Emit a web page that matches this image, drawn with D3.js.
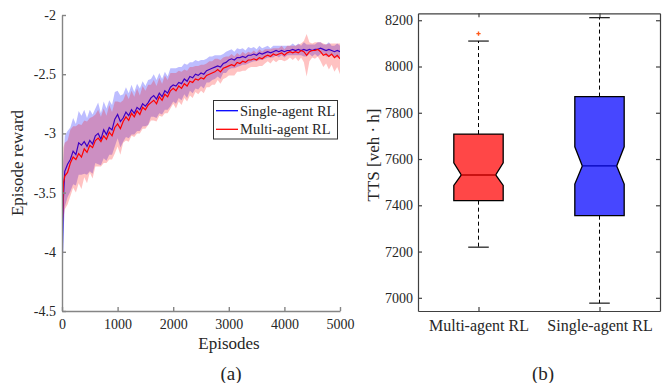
<!DOCTYPE html>
<html>
<head>
<meta charset="utf-8">
<script src="https://cdn.jsdelivr.net/npm/d3@7"></script>
<style>
  body { margin: 0; background: #fff; }
  svg text { font-family: "Liberation Serif", "Times New Roman", serif; fill: #262626; }
</style>
</head>
<body>
<svg id="chart" width="664" height="383"></svg>
<script>
// Episodes sampled along the training curve
const episodes = [0, 10, 25, 50, 100, 150, 200, 250, 300, 350, 400, 450, 500, 550, 600, 650, 700, 750, 800, 850, 900, 950,
  1000, 1050, 1100, 1150, 1200, 1250, 1300, 1350, 1400, 1450, 1500, 1550, 1600, 1650, 1700, 1750, 1800, 1850, 1900, 1950,
  2000, 2050, 2100, 2150, 2200, 2250, 2300, 2350, 2400, 2450, 2500, 2550, 2600, 2650, 2700, 2750, 2800, 2850, 2900, 2950,
  3000, 3050, 3100, 3150, 3200, 3250, 3300, 3350, 3400, 3450, 3500, 3550, 3600, 3650, 3700, 3750, 3800, 3850, 3900, 3950,
  4000, 4050, 4100, 4150, 4200, 4250, 4300, 4350, 4400, 4450, 4500, 4550, 4600, 4650, 4700, 4750, 4800, 4850, 4900, 4950, 5000];

const singleMean = [-4.30, -3.95, -3.55, -3.32, -3.26, -3.22, -3.15, -3.18, -3.08, -3.10, -3.07, -3.11, -3.06, -3.09, -3.02, -3.00, -3.05, -2.97, -3.01, -2.95, -2.97, -2.88,
  -2.84, -2.90, -2.87, -2.82, -2.85, -2.80, -2.83, -2.78, -2.80, -2.75, -2.77, -2.74, -2.70, -2.68, -2.71, -2.66, -2.69, -2.64, -2.66, -2.61,
  -2.59, -2.60, -2.57, -2.58, -2.54, -2.56, -2.52, -2.53, -2.50, -2.51, -2.49, -2.50, -2.47, -2.46, -2.45, -2.44, -2.43, -2.44, -2.41, -2.40,
  -2.38, -2.37, -2.38, -2.36, -2.36, -2.35, -2.36, -2.34, -2.34, -2.33, -2.34, -2.32, -2.33, -2.32, -2.31, -2.32, -2.31, -2.30, -2.31, -2.30,
  -2.31, -2.30, -2.30, -2.29, -2.30, -2.29, -2.30, -2.29, -2.30, -2.29, -2.30, -2.29, -2.29, -2.28, -2.29, -2.30, -2.29, -2.30, -2.31, -2.30, -2.31];

const singleStd = [0.10, 0.30, 0.32, 0.30, 0.28, 0.27, 0.28, 0.26, 0.27, 0.25, 0.27, 0.24, 0.26, 0.25, 0.23, 0.26, 0.22, 0.24, 0.22, 0.23, 0.21, 0.23,
  0.20, 0.22, 0.20, 0.21, 0.19, 0.21, 0.18, 0.20, 0.18, 0.19, 0.17, 0.19, 0.16, 0.18, 0.16, 0.17, 0.15, 0.16, 0.14, 0.16,
  0.14, 0.15, 0.13, 0.14, 0.13, 0.14, 0.12, 0.13, 0.12, 0.12, 0.11, 0.12, 0.10, 0.11, 0.10, 0.10, 0.09, 0.10, 0.08, 0.09,
  0.08, 0.08, 0.07, 0.08, 0.07, 0.07, 0.06, 0.07, 0.06, 0.06, 0.05, 0.06, 0.05, 0.05, 0.05, 0.04, 0.05, 0.04, 0.05, 0.04,
  0.05, 0.04, 0.04, 0.05, 0.04, 0.05, 0.04, 0.06, 0.05, 0.04, 0.05, 0.04, 0.06, 0.05, 0.04, 0.05, 0.06, 0.04, 0.05, 0.06, 0.05];

const multiMean = [-3.95, -3.70, -3.42, -3.36, -3.33, -3.25, -3.20, -3.22, -3.17, -3.20, -3.13, -3.16, -3.10, -3.12, -3.06, -3.04, -3.07, -3.02, -3.05, -2.99, -3.02, -2.95,
  -2.92, -2.96, -2.90, -2.86, -2.89, -2.83, -2.86, -2.81, -2.84, -2.78, -2.80, -2.76, -2.74, -2.72, -2.75, -2.69, -2.72, -2.67, -2.69, -2.64,
  -2.62, -2.64, -2.60, -2.62, -2.58, -2.60, -2.56, -2.57, -2.54, -2.55, -2.53, -2.54, -2.51, -2.50, -2.49, -2.48, -2.46, -2.48, -2.45, -2.44,
  -2.43, -2.42, -2.43, -2.40, -2.41, -2.39, -2.40, -2.38, -2.38, -2.37, -2.38, -2.36, -2.37, -2.35, -2.34, -2.35, -2.33, -2.34, -2.33, -2.32,
  -2.34, -2.32, -2.31, -2.32, -2.31, -2.32, -2.30, -2.31, -2.34, -2.31, -2.30, -2.30, -2.29, -2.31, -2.34, -2.33, -2.35, -2.33, -2.36, -2.34, -2.37];

const multiStd = [0.10, 0.30, 0.30, 0.28, 0.27, 0.28, 0.26, 0.28, 0.25, 0.27, 0.24, 0.26, 0.23, 0.26, 0.22, 0.24, 0.21, 0.23, 0.20, 0.23, 0.20, 0.22,
  0.19, 0.22, 0.18, 0.20, 0.18, 0.19, 0.17, 0.19, 0.16, 0.18, 0.16, 0.17, 0.15, 0.17, 0.15, 0.16, 0.14, 0.16, 0.14, 0.15,
  0.13, 0.15, 0.13, 0.14, 0.12, 0.13, 0.12, 0.13, 0.11, 0.12, 0.11, 0.12, 0.10, 0.11, 0.10, 0.11, 0.09, 0.10, 0.09, 0.09,
  0.08, 0.09, 0.08, 0.08, 0.07, 0.08, 0.07, 0.07, 0.06, 0.07, 0.06, 0.07, 0.06, 0.06, 0.05, 0.06, 0.05, 0.06, 0.05, 0.06,
  0.05, 0.06, 0.05, 0.06, 0.05, 0.07, 0.06, 0.09, 0.18, 0.08, 0.06, 0.07, 0.06, 0.08, 0.10, 0.08, 0.11, 0.09, 0.12, 0.10, 0.13];

const rewardTicks = [-4.5, -4, -3.5, -3, -2.5, -2];
const episodeTicks = [0, 1000, 2000, 3000, 4000, 5000];

// Box plot statistics (TTS in veh.h)
const methods = ["Multi-agent RL", "Single-agent RL"];
const boxQ1 = [7420, 7355];
const boxMedian = [7531, 7570];
const boxQ3 = [7708, 7870];
const notchLow = [7486, 7492];
const notchHigh = [7584, 7653];
const whiskerLow = [7219, 6977];
const whiskerHigh = [8110, 8211];
const outliers = [[8142], []];
const ttsTicks = [7000, 7200, 7400, 7600, 7800, 8000, 8200];

const boxFill = ["#ff4747", "#4747ff"];
const medianColor = ["#b80000", "#0000b8"];

const svg = d3.select("#chart");

// ---------- left panel: learning curves ----------
const x = d3.scaleLinear().domain([0, 5000]).range([62, 340]);
const y = d3.scaleLinear().domain([-4.5, -2]).range([311, 15]);

svg.append("defs").append("clipPath").attr("id", "clipA")
  .append("rect").attr("x", 62).attr("y", 15).attr("width", 278).attr("height", 296);

const plotA = svg.append("g").attr("clip-path", "url(#clipA)");

const area = (mean, sd) => d3.area()
  .x((d, i) => x(episodes[i]))
  .y0((d, i) => y(mean[i] - sd[i]))
  .y1((d, i) => y(mean[i] + sd[i]));
const line = (mean) => d3.line()
  .x((d, i) => x(episodes[i]))
  .y((d, i) => y(mean[i]));

plotA.append("path").datum(episodes).attr("d", area(singleMean, singleStd))
  .attr("fill", "#0000ff").attr("fill-opacity", 0.26);
plotA.append("path").datum(episodes).attr("d", line(singleMean))
  .attr("fill", "none").attr("stroke", "#0000ff").attr("stroke-width", 1.2);
plotA.append("path").datum(episodes).attr("d", area(multiMean, multiStd))
  .attr("fill", "#ff0000").attr("fill-opacity", 0.24);
plotA.append("path").datum(episodes).attr("d", line(multiMean))
  .attr("fill", "none").attr("stroke", "#ff0000").attr("stroke-width", 1.2);

const axA = svg.append("g").attr("class", "axA");
axA.append("g").attr("transform", "translate(0,311)")
  .call(d3.axisBottom(x).tickValues(episodeTicks).tickFormat(d3.format("d"))
    .tickSizeInner(-4).tickSizeOuter(0).tickPadding(8));
axA.append("g").attr("transform", "translate(62,0)")
  .call(d3.axisLeft(y).tickValues(rewardTicks).tickSizeInner(-4).tickSizeOuter(0).tickPadding(6)
    .tickFormat(d => String(d)));
axA.selectAll(".domain, .tick line").attr("stroke", "#858585").attr("stroke-width", 1.4);
axA.selectAll("text").attr("font-size", 14).attr("fill", "#262626").style("font-family", "Liberation Serif");

svg.append("text").attr("x", 229).attr("y", 349).attr("text-anchor", "middle")
  .attr("font-size", 17).text("Episodes");
svg.append("text").attr("transform", "translate(23,163) rotate(-90)").attr("text-anchor", "middle")
  .attr("font-size", 17).text("Episode reward");

// legend
const leg = svg.append("g");
leg.append("rect").attr("x", 213.5).attr("y", 100.5).attr("width", 124).attr("height", 38.5)
  .attr("fill", "#fff").attr("stroke", "#333").attr("stroke-width", 1);
[["Single-agent RL", "#0000ff", 110.7], ["Multi-agent RL", "#ff0000", 129.3]].forEach(([name, c, ly]) => {
  leg.append("line").attr("x1", 216).attr("x2", 238).attr("y1", ly).attr("y2", ly)
    .attr("stroke", c).attr("stroke-width", 1.3);
  leg.append("text").attr("x", 240).attr("y", ly + 5).attr("font-size", 14.5).text(name);
});

svg.append("text").attr("x", 231).attr("y", 380).attr("text-anchor", "middle")
  .attr("font-size", 19).text("(a)");

// ---------- right panel: box plot ----------
const bx = d3.scaleLinear().domain([0.5, 2.5]).range([418, 660]);
const by = d3.scaleLinear().domain([6943, 8230]).range([311, 13.3]);
const halfW = 0.204, notchW = 0.142, capW = 0.085;

const axB = svg.append("g");
axB.append("g").attr("transform", "translate(0,311)")
  .call(d3.axisBottom(bx).tickValues([1, 2]).tickFormat((d, i) => methods[i])
    .tickSizeInner(-4).tickSizeOuter(0).tickPadding(9));
axB.append("g").attr("transform", "translate(0,13.3)")
  .call(d3.axisTop(bx).tickValues([1, 2]).tickFormat("").tickSizeInner(-4).tickSizeOuter(0));
axB.append("g").attr("transform", "translate(418,0)")
  .call(d3.axisLeft(by).tickValues(ttsTicks).tickFormat(d3.format("d"))
    .tickSizeInner(-4).tickSizeOuter(0).tickPadding(5));
axB.append("g").attr("transform", "translate(660,0)")
  .call(d3.axisRight(by).tickValues(ttsTicks).tickFormat("").tickSizeInner(-4).tickSizeOuter(0));
axB.selectAll(".domain, .tick line").attr("stroke", "#404040").attr("stroke-width", 1.2);
axB.selectAll("text").attr("font-size", 14).attr("fill", "#262626").style("font-family", "Liberation Serif");
axB.select("g").selectAll("text").attr("font-size", 16);

const boxes = svg.append("g");
methods.forEach((m, i) => {
  const c = i + 1;
  // whiskers
  boxes.append("line").attr("x1", bx(c)).attr("x2", bx(c)).attr("y1", by(boxQ3[i])).attr("y2", by(whiskerHigh[i]))
    .attr("stroke", "#000").attr("stroke-width", 1).attr("stroke-dasharray", "4,3");
  boxes.append("line").attr("x1", bx(c)).attr("x2", bx(c)).attr("y1", by(boxQ1[i])).attr("y2", by(whiskerLow[i]))
    .attr("stroke", "#000").attr("stroke-width", 1).attr("stroke-dasharray", "4,3");
  [whiskerHigh[i], whiskerLow[i]].forEach(v => {
    boxes.append("line").attr("x1", bx(c - capW)).attr("x2", bx(c + capW)).attr("y1", by(v)).attr("y2", by(v))
      .attr("stroke", "#000").attr("stroke-width", 1.1);
  });
  // notched box
  const pts = [
    [c - halfW, boxQ3[i]], [c + halfW, boxQ3[i]], [c + halfW, notchHigh[i]], [c + notchW, boxMedian[i]],
    [c + halfW, notchLow[i]], [c + halfW, boxQ1[i]], [c - halfW, boxQ1[i]], [c - halfW, notchLow[i]],
    [c - notchW, boxMedian[i]], [c - halfW, notchHigh[i]]
  ];
  boxes.append("polygon").attr("points", pts.map(p => [bx(p[0]), by(p[1])].join(",")).join(" "))
    .attr("fill", boxFill[i]).attr("stroke", "#000").attr("stroke-width", 1.3);
  boxes.append("line").attr("x1", bx(c - notchW)).attr("x2", bx(c + notchW))
    .attr("y1", by(boxMedian[i])).attr("y2", by(boxMedian[i]))
    .attr("stroke", medianColor[i]).attr("stroke-width", 1.3);
  outliers[i].forEach(v => {
    boxes.append("path").attr("d", d3.symbol(d3.symbolCross, 10)())
      .attr("transform", `translate(${bx(c)},${by(v)})`).attr("fill", "#ff5a1a");
  });
});

svg.append("text").attr("transform", "translate(379,155) rotate(-90)").attr("text-anchor", "middle")
  .attr("font-size", 17).text("TTS [veh · h]");

svg.append("text").attr("x", 543).attr("y", 380).attr("text-anchor", "middle")
  .attr("font-size", 19).text("(b)");
</script>
</body>
</html>
